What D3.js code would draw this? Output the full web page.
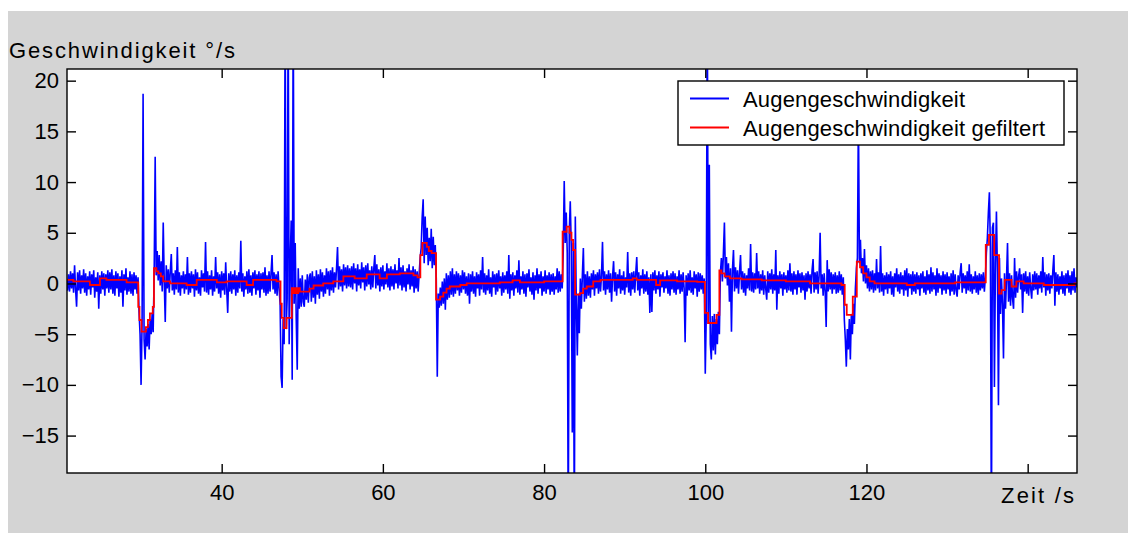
<!DOCTYPE html>
<html>
<head>
<meta charset="utf-8">
<script src="https://cdn.jsdelivr.net/npm/d3@7"></script>
<style>
  body { margin: 0; background: #ffffff; }
  svg { display: block; }
  text { font-family: "Liberation Sans", Arial, Helvetica, sans-serif; fill: #000; }
</style>
</head>
<body>
<svg id="chart" width="1134" height="533"></svg>
<script>
// Eye velocity, sampled every 0.125 s starting at 20.75 s (°/s); one row = 5 s
const sampleStart = 20.75;
const sampleStep = 0.125;
const eyeSpeed = [
  0.3, -0.7,
  // 21 s
  0.9, -0.8, 1.2, -0.5, 1.0, -0.9, 1.8, -0.6, -2.3, 1.1, -0.7, 1.3, -1.0, 0.8, -0.5, 1.4, -0.9, 1.0, -1.2, 0.7,
  -0.6, 1.2, -1.1, 0.9, -0.4, 1.3, -1.4, 0.6, -0.8, 1.1, -2.5, 0.8, -1.0, 1.2, -0.6, 1.0, -1.2, 0.9, -0.5, 1.3,
  // 26 s
  -0.9, 1.1, -0.6, 1.4, -1.0, 0.8, -1.2, 1.2, -0.5, 1.0, -1.3, 0.7, -0.9, 1.3, -2.3, 0.9, -0.7, 1.5, -1.1, 0.6,
  -0.8, 1.2, -1.0, 0.9, -1.2, 1.1, -0.6, 0.8, -1.0, 0.6, -2.8, -5.0, -10.0, -4.0, 18.7, -5.5, -7.5, -4.5, -6.2, -4.0,
  // 31 s
  -6.5, -3.5, -5.0, -3.0, -4.8, 1.0, 12.5, 0.8, 3.2, 0.3, 2.8, -0.2, 2.2, -0.8, 6.0, 0.2, -3.8, 1.8, -0.5, 1.4,
  -0.9, 1.2, 2.9, -0.7, 1.0, -1.1, 1.3, -0.6, 3.6, -0.9, 1.1, -1.2, 0.8, -0.5, 1.2, -1.0, 0.9, -0.6, 2.6, -1.1,
  // 36 s
  1.0, -0.9, 1.2, -0.5, 0.9, -1.3, 1.4, -0.7, 1.1, -1.0, 0.6, -1.2, 1.3, -0.4, 1.0, -0.8, 4.1, -0.9, 1.2, -1.1,
  0.8, -0.6, 1.3, -1.2, 0.7, -0.8, 2.6, -0.5, 1.1, -1.0, 0.9, -1.4, 1.2, -0.7, 1.0, -1.1, 2.1, -0.6, -2.9, 1.0,
  // 41 s
  -0.8, 1.2, -1.0, 0.9, -0.6, 1.3, -1.2, 0.8, -0.9, 1.1, -0.5, 4.2, -0.8, 1.0, -1.3, 0.7, -0.6, 1.2, -1.0, 1.4,
  -0.9, 0.8, -1.2, 1.1, -0.5, 1.3, -1.1, 0.9, -0.7, 1.2, -1.4, 1.0, -0.6, 1.1, -0.9, 1.6, -1.2, 0.8, -1.0, 1.2,
  // 46 s
  -0.8, 1.0, 2.8, -0.6, 1.1, -1.0, 0.9, -1.2, 1.2, -0.5, -2.0, -9.2, -10.3, -3.5, -6.0, 28.0, -4.5, -1.5, 28.0, -6.0,
  2.0, 6.2, -9.5, 28.0, -2.0, 4.0, -3.5, -8.5, 1.5, -2.5, 0.5, -2.3, 0.8, -1.8, -2.3, 0.4, -1.6, 0.9, -1.9, 0.6,
  // 51 s
  1.0, -1.8, 1.2, -1.4, 0.7, -2.0, 1.3, -1.1, 0.9, -1.5, 1.4, -0.8, 1.1, -1.3, 0.8, -1.0, 1.5, -0.6, 1.2, -1.2,
  1.3, -0.7, 1.6, -0.9, 1.1, -0.4, 1.5, 3.6, -0.6, 1.7, -0.3, 1.4, -0.8, 1.9, -0.2, 1.6, -0.5, 1.8, -0.3, 1.5,
  // 56 s
  -0.4, 1.7, -0.6, 2.0, 0.0, 1.5, -0.8, 1.9, -0.2, 1.4, -0.5, 2.1, 0.1, 1.6, -0.7, 1.8, -0.3, 2.0, -0.1, 1.3,
  -0.6, 1.7, -0.4, 1.5, 2.8, -0.5, 1.9, -0.2, 1.4, -0.8, 1.6, -0.3, 1.8, -0.6, 1.2, -0.1, 2.0, -0.4, 1.5, -0.7,
  // 61 s
  1.7, -0.3, 1.4, -0.6, 1.9, 0.0, 1.3, -0.5, 2.5, -0.2, 1.6, -0.7, 1.8, -0.4, 1.2, -0.8, 1.5, -0.1, 1.9, -0.6,
  1.3, -0.3, 1.7, -0.9, 1.4, -0.5, 1.2, -0.8, 0.9, 2.5, 3.5, 6.5, 8.3, 2.0, 6.6, 2.8, 5.5, 1.8, 4.5, 2.2,
  // 66 s
  5.4, 1.5, 4.6, 1.8, 3.8, 0.5, -9.2, -1.0, -2.4, -0.4, -2.2, 0.2, -2.0, 0.5, -2.6, 1.0, -1.6, 0.8, -1.4, 1.2,
  -1.1, 1.5, -1.3, 0.9, -1.0, 1.2, -0.7, 1.0, -1.2, 0.8, -0.9, 1.3, -0.6, 1.1, -1.0, 0.7, -1.2, 1.0, -2.0, 0.9,
  // 71 s
  -0.8, 1.2, -1.0, 0.7, -1.3, 1.1, -0.5, 0.9, -1.2, 1.3, -0.6, 2.6, -0.9, 1.0, -1.1, 0.8, -0.7, 1.4, -1.0, 0.6,
  -1.3, 1.2, -0.4, 0.9, -1.1, 1.0, -0.8, 1.3, -0.5, 0.7, -1.2, 1.1, -0.9, 0.8, -0.6, 1.2, -1.0, 2.8, -1.5, 0.9,
  // 76 s
  -0.7, 1.1, -1.2, 0.8, -0.5, 1.3, -0.9, 2.3, -1.1, 0.7, -0.6, 1.2, -1.0, 0.9, -1.3, 1.0, -0.4, 1.4, -0.8, 0.6,
  -1.1, 1.1, -1.6, 0.8, -0.7, 1.5, -1.0, 0.9, -0.5, 1.2, -1.2, 0.7, -0.8, 1.3, -1.0, 0.8, -0.6, 1.1, -1.1, 0.9,
  // 81 s
  -0.8, 1.0, -1.1, 0.7, -0.6, 1.5, -0.9, 1.2, -0.8, 0.9, -0.5, 3.0, 10.1, 4.0, 7.0, 3.0, -25.0, 5.0, 8.1, 3.5,
  -14.7, 4.0, -25.0, 6.6, -2.0, -7.1, -1.0, -4.9, 0.5, -2.5, 0.8, 3.5, -1.8, 0.9, -1.5, 1.2, -1.2, 0.7, -1.4, 1.0,
  // 86 s
  -0.6, 1.3, -1.2, 0.9, -0.5, 1.1, -1.0, 1.4, -0.8, 0.8, 4.1, -0.7, 1.2, -1.1, 0.9, -0.6, 1.3, -0.9, 1.0, -1.8,
  0.7, 2.2, -0.8, 1.1, -1.2, 0.9, -0.5, 1.4, -1.0, 0.8, -0.7, 1.2, -1.1, 0.6, -0.4, 3.1, -0.9, 1.0, -1.2, 1.1,
  // 91 s
  -0.6, 1.2, -0.9, 1.0, 2.6, -0.7, 1.1, -1.2, 0.8, -0.5, 1.4, -1.0, 0.9, -0.8, 1.2, -1.1, 0.6, -2.9, 0.9, -2.8,
  1.1, -0.7, 1.3, -1.0, 0.8, -0.6, 1.2, -1.3, 0.9, -0.4, 1.1, -0.9, 0.7, -0.5, 1.3, -1.0, 0.8, -1.2, 1.0, -0.6,
  // 96 s
  1.2, -0.9, 1.0, -1.1, 0.7, -0.6, 1.3, -1.0, 0.9, -0.8, 1.1, -0.5, -5.8, 0.8, -1.2, 1.0, -0.7, 1.3, -0.9, 0.6,
  -1.1, 1.2, -0.5, 0.9, -1.3, 1.1, -0.8, 1.0, -0.6, 0.8, -1.0, 0.5, -8.9, -3.0, 28.0, -4.0, 11.7, -6.0, -7.5, -3.2,
  // 101 s
  -6.6, -3.0, -7.0, -3.5, -6.0, -2.8, -5.0, 1.0, 2.5, 0.2, 3.0, 6.0, 0.5, 2.6, -0.2, 2.0, -1.8, 1.5, -4.75, 1.4,
  3.3, -0.8, 1.6, -0.5, 1.3, -1.0, 1.1, 2.8, -0.6, 1.2, -0.9, 1.0, -1.2, 0.8, -0.5, 1.5, -0.7, 3.9, -0.8, 1.1,
  // 106 s
  -0.9, 1.0, -0.6, 3.0, -0.5, 1.2, -1.0, 0.9, -0.7, 1.3, -1.1, 0.8, -0.5, -1.6, 1.2, -0.9, 1.0, -0.6, 1.4, -1.0,
  0.9, -0.7, 3.3, -2.6, 0.8, -1.0, 1.2, -0.5, 0.9, -1.2, 1.1, -0.6, 0.8, -0.9, 1.3, -0.7, 2.0, -0.8, 1.0, -1.1,
  // 111 s
  1.2, -0.6, 0.9, -1.1, 1.3, -0.4, 1.0, -0.9, 1.1, -0.7, 0.8, -1.6, 1.0, -0.8, 1.2, -0.5, 0.9, -1.0, 1.3, 2.4,
  -0.9, 1.1, -0.6, 1.2, -1.0, 0.8, 5.0, -0.5, 0.9, -1.2, 1.0, -0.8, -4.3, 2.3, -0.8, 1.4, -0.6, 1.1, -1.0, 0.9,
  // 116 s
  -0.6, 1.1, -1.0, 0.8, -0.9, 1.2, -0.7, 0.9, -1.1, 0.6, -3.5, -5.5, -8.2, -4.5, -6.5, -3.5, -7.5, -3.0, -5.0, -2.0,
  -4.0, -0.5, 1.5, 2.5, 17.0, 2.0, 4.3, 1.0, 2.5, 0.2, 3.4, 0.0, 1.8, -0.5, 1.5, -0.8, 1.2, -0.6, 1.3, -0.9,
  // 121 s
  1.0, -0.7, 2.4, -0.5, 1.1, -0.9, 3.7, -0.8, 1.0, -1.2, 0.8, -0.6, 1.1, -1.0, 0.9, -0.5, 1.2, -1.1, 0.7, -1.3,
  1.0, -0.4, 1.5, -0.8, 0.9, -1.0, 1.1, -0.6, 0.8, -1.2, 1.3, -0.7, 1.5, -1.3, 1.0, -0.5, 0.9, -1.1, 1.2, -0.8,
  // 126 s
  0.9, -1.0, 1.1, -0.6, 0.8, -1.2, 1.0, -0.5, 1.2, -0.9, 0.7, -1.1, 1.3, -0.7, 0.9, -1.0, 1.6, -0.8, 1.1, -0.6,
  0.8, -1.2, 1.5, -0.9, 1.0, -0.5, 0.8, -1.1, 1.2, -0.7, 0.9, -1.0, 1.1, -0.6, 0.7, -1.2, 1.0, -0.8, 1.3, -1.1,
  // 131 s
  0.9, -0.7, -1.3, 0.8, -0.6, 1.1, 2.0, -0.9, 1.0, -0.5, 0.8, -1.0, 1.2, -0.7, 1.9, -0.8, 0.9, -1.0, 0.7, -0.6,
  1.2, -0.9, 0.8, -1.1, 1.0, -0.7, 0.9, -0.5, 1.1, -0.8, 0.6, 3.0, 4.5, 7.0, 9.0, 3.5, -25.0, 5.5, 6.0, -10.2,
  // 136 s
  2.0, 7.1, 1.0, -12.0, 2.5, -3.0, 0.5, -2.0, -7.4, 1.0, -2.5, 0.5, 4.0, -1.8, 1.0, -2.2, 0.8, -1.5, -2.5, 2.5,
  -1.4, 1.2, -0.9, 0.7, 1.5, -0.6, 0.9, -2.9, 1.0, -0.8, 1.2, -1.0, 0.7, -1.2, 1.1, -0.5, -1.5, 0.9, -0.7, 1.2,
  // 141 s
  -0.6, 1.0, -1.1, 0.8, -0.5, 1.2, -0.9, 2.6, -0.4, 1.1, -1.2, 0.9, -0.7, 1.0, -1.0, 0.8, -0.5, 1.3, 2.8, -2.2,
  1.1, -0.8, 0.9, -1.1, 0.7, -0.6, 1.2, -1.0, 0.8, -1.2, 1.0, -0.5, 1.3, -0.9, 0.8, -1.1, 1.2, -0.7, 1.5, -0.9,
  // 146 s
  0.6, -0.4, 0.5
];

// Filtered eye velocity (step output of the filter)
const filtTime = [
  20.75, 21.6, 23.65, 24.9, 25.7, 28.2, 29.65, 29.8, 30.05, 30.6, 30.85, 31.1, 31.45, 31.6, 31.9, 32.15, 32.45,
  32.75, 33.6, 35.65, 36.9, 39.4, 40.6, 43.1, 43.9, 46.8, 47.3, 47.45, 47.7, 48.05, 48.7, 48.9, 49.1, 49.3, 49.5,
  49.7, 50.9, 51.4, 52.6, 53.85, 55.1, 56.5, 58.0, 59.6, 60.5, 62.1, 63.8, 64.3, 64.65, 64.9, 65.45, 65.7, 66.05,
  66.6, 67.1, 67.5, 67.9, 68.3, 69.6, 70.4, 74.5, 76.1, 77.0, 80.0, 82.3, 82.8, 83.15, 83.4, 83.6, 83.85, 84.45,
  84.85, 85.3, 86.1, 87.0, 91.0, 91.5, 93.9, 94.4, 96.5, 99.0, 99.95, 100.35, 101.4, 101.75, 102.0, 102.4, 103.05,
  104.5, 107.0, 110.0, 113.0, 116.9, 117.3, 117.55, 118.3, 118.8, 119.2, 119.6, 120.0, 120.4, 121.0, 125.0, 126.0,
  131.0, 134.8, 135.2, 135.85, 136.45, 136.75, 137.15, 138.0, 138.6, 139.5, 142.0, 145.8, 146.12
];
const filtSpeed = [
  0.35, 0.2, -0.15, 0.5, 0.35, 0.1, -2.3, -3.6, -4.75, -4.3, -3.6, -2.95, -2.3, 1.5, 1.2, 1.0, 0.7,
  0.2, 0.0, -0.15, 0.35, 0.1, 0.2, -0.15, 0.35, 0.2, -2.0, -3.4, -4.4, -3.4, -0.45, -0.95, -0.45, -0.95, -0.45,
  -0.8, -0.5, -0.2, 0.0, 0.2, 0.7, 0.5, 0.9, 0.5, 0.9, 1.0, 0.8, 0.6, 2.8, 4.0, 3.6, 3.2, 3.0,
  -1.6, -1.3, -0.9, -0.5, -0.3, -0.15, 0.0, 0.1, 0.3, 0.1, 0.2, 5.1, 5.6, 5.0, 4.3, 3.3, -1.1, -0.95,
  -0.5, -0.3, 0.2, 0.35, 0.5, 0.35, -0.15, 0.3, 0.2, 0.15, -2.9, -3.9, -3.1, 1.3, 1.0, 0.7, 0.5,
  0.4, 0.3, 0.2, 0.0, -0.15, -2.1, -3.1, -1.3, 2.15, 1.6, 1.0, 0.6, 0.2, 0.0, -0.15, 0.0,
  0.1, 3.8, 4.8, 2.8, -1.0, -0.65, 0.35, -0.3, 0.2, 0.0, -0.15, 0.0, 0.0
];

const xTicks = [40, 60, 80, 100, 120, 140];
const xTickLabels = ["40", "60", "80", "100", "120", ""];
const yTicks = [-15, -10, -5, 0, 5, 10, 15, 20];
const legendLabels = ["Augengeschwindigkeit", "Augengeschwindigkeit gefiltert"];
const seriesColors = ["#0000ff", "#ff0000"];

const svg = d3.select("#chart");

// figure background
svg.append("rect").attr("x", 8).attr("y", 11).attr("width", 1120).attr("height", 522).attr("fill", "#d4d4d4");

const plot = { left: 67, right: 1077, top: 69, bottom: 473 };
const x = d3.scaleLinear().domain([20.81, 146.12]).range([plot.left, plot.right]);
const y = d3.scaleLinear().domain([-18.69, 21.15]).range([plot.bottom, plot.top]);

svg.append("rect")
  .attr("x", plot.left).attr("y", plot.top)
  .attr("width", plot.right - plot.left).attr("height", plot.bottom - plot.top)
  .attr("fill", "#ffffff");

svg.append("clipPath").attr("id", "plotClip")
  .append("rect")
  .attr("x", plot.left).attr("y", plot.top)
  .attr("width", plot.right - plot.left).attr("height", plot.bottom - plot.top);

const data = eyeSpeed.map((v, i) => ({ t: sampleStart + i * sampleStep, v }));
const filtered = filtTime.map((t, i) => ({ t, v: filtSpeed[i] }));

const lines = svg.append("g").attr("clip-path", "url(#plotClip)");
lines.append("path")
  .datum(data)
  .attr("fill", "none")
  .attr("stroke", seriesColors[0])
  .attr("stroke-width", 1.6)
  .attr("stroke-linejoin", "bevel")
  .attr("d", d3.line().x(d => x(d.t)).y(d => y(d.v)));

lines.append("path")
  .datum(filtered)
  .attr("fill", "none")
  .attr("stroke", seriesColors[1])
  .attr("stroke-width", 1.8)
  .attr("d", d3.line().curve(d3.curveStepAfter).x(d => x(d.t)).y(d => y(d.v)));

// axes with inward ticks on all four sides
const tickLen = 9;
const fontSize = 22;

const xAxisBottom = d3.axisBottom(x).tickValues(xTicks)
  .tickFormat((d, i) => xTickLabels[i]).tickSizeInner(-tickLen).tickSizeOuter(0).tickPadding(11);
const gxb = svg.append("g").attr("transform", `translate(0,${plot.bottom})`).call(xAxisBottom);

const xAxisTop = d3.axisTop(x).tickValues(xTicks).tickFormat("").tickSizeInner(-tickLen).tickSizeOuter(0);
const gxt = svg.append("g").attr("transform", `translate(0,${plot.top})`).call(xAxisTop);

const yAxisLeft = d3.axisLeft(y).tickValues(yTicks)
  .tickFormat(d3.format("d")).tickSizeInner(-tickLen).tickSizeOuter(0).tickPadding(8);
const gyl = svg.append("g").attr("transform", `translate(${plot.left},0)`).call(yAxisLeft);

const yAxisRight = d3.axisRight(y).tickValues(yTicks).tickFormat("").tickSizeInner(-tickLen).tickSizeOuter(0);
const gyr = svg.append("g").attr("transform", `translate(${plot.right},0)`).call(yAxisRight);

[gxb, gxt, gyl, gyr].forEach(g => {
  g.select(".domain").remove();
  g.selectAll(".tick line").attr("stroke", "#000").attr("stroke-width", 1.4);
  g.selectAll(".tick text").attr("font-size", fontSize).attr("font-family", null).attr("fill", "#111");
});

svg.append("rect")
  .attr("x", plot.left).attr("y", plot.top)
  .attr("width", plot.right - plot.left).attr("height", plot.bottom - plot.top)
  .attr("fill", "none").attr("stroke", "#000").attr("stroke-width", 1.4);

// axis titles
svg.append("text")
  .attr("x", 9).attr("y", 58)
  .attr("font-size", fontSize)
  .attr("textLength", 226).attr("lengthAdjust", "spacing")
  .attr("fill", "#111")
  .text("Geschwindigkeit °/s");

svg.append("text")
  .attr("x", 1001).attr("y", 503)
  .attr("font-size", fontSize)
  .attr("textLength", 73).attr("lengthAdjust", "spacing")
  .attr("fill", "#111")
  .text("Zeit /s");

// legend
const legend = svg.append("g");
legend.append("rect")
  .attr("x", 678).attr("y", 81).attr("width", 386).attr("height", 64)
  .attr("fill", "#ffffff").attr("stroke", "#000").attr("stroke-width", 1.4);
const legendRows = [98.5, 127.5];
const legendTextWidths = [222, 302];
legendLabels.forEach((label, i) => {
  legend.append("line")
    .attr("x1", 690).attr("x2", 729).attr("y1", legendRows[i]).attr("y2", legendRows[i])
    .attr("stroke", seriesColors[i]).attr("stroke-width", 1.8);
  legend.append("text")
    .attr("x", 743).attr("y", legendRows[i] + 8)
    .attr("font-size", fontSize)
    .attr("textLength", legendTextWidths[i]).attr("lengthAdjust", "spacing")
    .attr("fill", "#111")
    .text(label);
});
</script>
</body>
</html>
